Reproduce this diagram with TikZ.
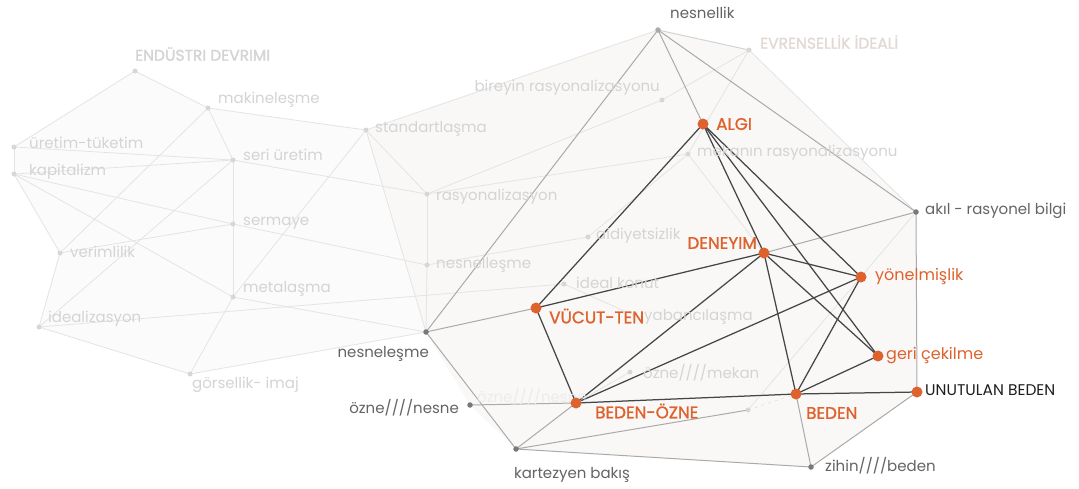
\documentclass[tikz,border=0pt]{standalone}
\usepackage{fontspec}
\setmainfont{Poppins}
\newfontfamily\semib[FakeBold=1.3]{Poppins}
\usetikzlibrary{backgrounds}
\definecolor{org}{RGB}{222,98,45}
\definecolor{faintT}{RGB}{212,212,212}
\definecolor{faintP}{RGB}{226,216,212}
\definecolor{faintX}{RGB}{236,236,236}
\definecolor{grayT}{RGB}{100,100,100}
\definecolor{grayD}{RGB}{120,120,120}
\definecolor{faintD}{RGB}{215,215,215}
\definecolor{darkE}{RGB}{70,70,70}
\definecolor{midE}{RGB}{170,170,170}
\definecolor{faintE}{RGB}{228,228,228}
\definecolor{fillA}{RGB}{251,251,251}
\definecolor{fillB}{RGB}{249,248,247}
\definecolor{blk}{RGB}{30,30,30}
\begin{document}
\begin{tikzpicture}[x=1pt,y=-1pt,
  lbl/.style={inner sep=0pt, font=\fontsize{15}{15}\selectfont},
  flbl/.style={lbl, text=faintT},
  glbl/.style={lbl, text=grayT},
  hlbl/.style={inner sep=0pt, font=\semib\fontsize{15.5}{15.5}\selectfont},
  olbl/.style={inner sep=0pt, text=org, font=\semib\fontsize{16.8}{16.8}\selectfont},
  olow/.style={inner sep=0pt, text=org, font=\fontsize{16}{16}\selectfont},
  odot/.style={circle, fill=org, inner sep=0pt, minimum size=11pt},
  gdot/.style={circle, fill=grayD, inner sep=0pt, minimum size=5.5pt},
  fdt/.style={circle, fill=faintD, inner sep=0pt, minimum size=5pt},
  dk/.style={draw=darkE, line width=1.25pt},
  md/.style={draw=midE, line width=1pt},
  ft/.style={draw=faintE, line width=0.8pt}]
\useasboundingbox (0,0) rectangle (1079,488);

% ---------- faint left graph ----------
\node[fdt] (end) at (135,71) {};
\node[hlbl, anchor=west, text=faintT] (endL) at (135,54) {ENDÜSTRI DEVRIMI};
\node[fdt] (mak) at (208,108) {};
\node[flbl, anchor=west] (makL) at (218,100) {makineleşme};
\node[fdt] (std) at (366,130) {};
\node[flbl, anchor=west] (stdL) at (375,129) {standartlaşma};
\node[fdt] (ure) at (14,147) {};
\node[flbl, anchor=west] (ureL) at (29,143) {üretim-tüketim};
\node[fdt] (kap) at (14,174) {};
\node[flbl, anchor=west] (kapL) at (29,172) {kapitalizm};
\node[fdt] (seri) at (233,160) {};
\node[flbl, anchor=west] (seriL) at (243,155) {seri üretim};
\node[fdt] (ras) at (427,194) {};
\node[flbl, anchor=west] (rasL) at (436,197) {rasyonalizasyon};
\node[fdt] (ser) at (233,224) {};
\node[flbl, anchor=west] (serL) at (243,223) {sermaye};
\node[fdt] (ver) at (60,253) {};
\node[flbl, anchor=west] (verL) at (70,252) {verimlilik};
\node[fdt] (met) at (233,297) {};
\node[flbl, anchor=west] (metL) at (243,289) {metalaşma};
\node[fdt] (ide) at (39,327) {};
\node[flbl, anchor=west] (ideL) at (48,319) {idealizasyon};
\node[fdt] (gor) at (190,374) {};
\node[flbl, anchor=west] (gorL) at (192,385) {görsellik- imaj};
\node[fdt] (nle) at (427,265) {};
\node[flbl, anchor=west] (nleL) at (436,265) {nesnelleşme};
\node[fdt] (aid) at (588,237) {};
\node[flbl, anchor=west] (aidL) at (596,236) {aidiyetsizlik};
\node[fdt] (idk) at (564,284) {};
\node[flbl, anchor=west] (idkL) at (576,283) {ideal konut};
\coordinate (yab) at (640,318);
\node[flbl, anchor=west] (yabL) at (644,317) {yabancılaşma};
\node[fdt] (omk) at (630,372) {};
\node[flbl, anchor=west] (omkL) at (643,373) {özne////mekan};
\node[flbl, anchor=west, text=faintX] (onfL) at (477,397) {özne////nesne};
\node[fdt] (fd) at (748,410) {};
\node[fdt] (bir) at (662,100) {};
\node[flbl, anchor=east] (birL) at (660,88) {bireyin rasyonalizasyonu};
\node[fdt] (mek) at (688,154) {};
\node[flbl, anchor=west] (mekL) at (697,153) {mekanın rasyonalizasyonu};
\node[fdt] (evr) at (749,50) {};
\node[hlbl, anchor=west, text=faintP] (evrL) at (760,42) {EVRENSELLİK İDEALİ};

% ---------- gray nodes ----------
\node[gdot, fill=midE] (nesl) at (658,30) {};
\node[glbl, anchor=west] (neslL) at (670,13) {nesnellik};
\node[gdot] (nesn) at (426,332) {};
\node[glbl, anchor=east] (nesnL) at (429,354) {nesneleşme};
\node[gdot] (ozn) at (470,405) {};
\node[glbl, anchor=east] (oznL) at (459,408) {özne////nesne};
\node[gdot] (kart) at (516,449) {};
\node[glbl] (kartL) at (572,475) {kartezyen bakış};
\node[gdot] (akil) at (916,212) {};
\node[glbl, anchor=west] (akilL) at (925,211) {akıl - rasyonel bilgi};
\node[gdot] (zih) at (811,467) {};
\node[glbl, anchor=west] (zihL) at (825,466) {zihin////beden};

% ---------- orange nodes ----------
\node[odot] (algi) at (703,124) {};
\node[olbl, anchor=west] (algiL) at (716,124) {ALGI};
\node[odot] (den) at (764,253) {};
\node[olbl, anchor=east] (denL) at (757,243) {DENEYIM};
\node[odot] (yon) at (861,277) {};
\node[olow, anchor=west] (yonL) at (875,276) {yönelmişlik};
\node[odot] (vuc) at (536,308) {};
\node[olbl, anchor=west] (vucL) at (549,316) {VÜCUT-TEN};
\node[odot] (geri) at (878,356) {};
\node[olow, anchor=west] (geriL) at (886,356) {geri çekilme};
\node[odot] (bo) at (576,403) {};
\node[olbl, anchor=west] (boL) at (595,411) {BEDEN-ÖZNE};
\node[odot] (bed) at (796,394) {};
\node[olbl, anchor=west] (bedL) at (806,413) {BEDEN};
\node[odot] (unut) at (917,392) {};
\node[lbl, anchor=west, text=blk, font=\fontsize{15.5}{15.5}\selectfont] (unutL) at (925,390) {UNUTULAN BEDEN};

\begin{scope}[on background layer]
\fill[white] (0,0) rectangle (1079,488);
% soft background regions
\fill[fillA] (ure.center) -- (end.center) -- (mak.center) -- (std.center) -- (ras.center) -- (nesn.center) -- (gor.center) -- (ide.center) -- (ver.center) -- (kap.center) -- cycle;
\fill[fillB] (std.center) -- (nesl.center) -- (evr.center) -- (akil.center) -- (unut.center) -- (zih.center) -- (kart.center) -- (ozn.center) -- (nesn.center) -- cycle;
% faint edges
\foreach \a/\b in {end/mak, end/ure, mak/std, mak/seri, mak/ver, ure/kap, ure/seri, kap/seri, kap/ver, kap/ser, kap/met,
  seri/ser, ser/met, seri/ras, seri/ide, ver/ser, std/ras, std/nesl, ras/nle, nle/nesn, ras/mek, ras/bir, bir/evr,
  ver/ide, ide/gor, ide/idk, gor/met, gor/nesn, met/nesn, nle/aid, aid/mek, idk/yab, evr/akil, evr/mek, mek/den,
  akil/fd, std/met, ser/nle, omk/bo, nesn/std}
  \draw[ft] (\a.center) -- (\b.center);
\draw[ft, dash pattern=on 3pt off 4pt] (fd.center) -- (bed.center);
% medium edges
\foreach \a/\b in {nesl/algi, nesl/akil, nesl/nesn, nesn/vuc, nesn/kart, ozn/bo, kart/bo, kart/zih,
  kart/fd, bed/zih, unut/zih, akil/unut, akil/den}
  \draw[md] (\a.center) -- (\b.center);
\draw[md, draw=faintE!70!midE] (nesl.center) -- (evr.center);
% dark edges
\foreach \a/\b in {algi/vuc, algi/den, algi/geri, algi/yon, den/vuc, den/yon, den/geri, den/bed, den/bo,
  vuc/bo, bo/bed, bo/yon, bed/yon, bed/geri, bed/unut}
  \draw[dk] (\a.center) -- (\b.center);
\end{scope}
\end{tikzpicture}
\end{document}
